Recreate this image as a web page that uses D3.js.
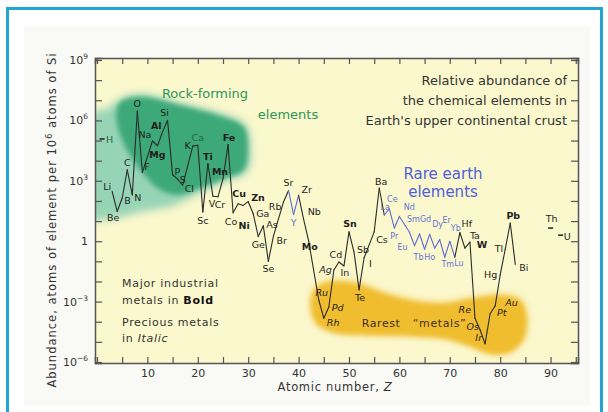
<!DOCTYPE html>
<html>
<head>
<meta charset="utf-8">
<script src="https://cdn.jsdelivr.net/npm/d3@7"></script>
<style>
  body { margin: 0; background: #fff; }
  svg { display: block; font-family: "DejaVu Sans", sans-serif; }
</style>
</head>
<body>
<svg id="chart" width="608" height="412"></svg>
<script>
// Element symbols, atomic numbers and abundance (atoms per 10^6 atoms of Si)
const elementSymbols = ["H","Li","Be","B","C","N","O","F","Na","Mg","Al","Si","P","S","Cl",
  "K","Ca","Sc","Ti","V","Cr","Mn","Fe","Co","Ni","Cu","Zn","Ga","Ge","As","Se","Br",
  "Rb","Sr","Y","Zr","Nb","Mo","Ru","Rh","Pd","Ag","Cd","In","Sn","Sb","Te","I","Cs","Ba",
  "La","Ce","Pr","Nd","Sm","Eu","Gd","Tb","Dy","Ho","Er","Tm","Yb","Lu",
  "Hf","Ta","W","Re","Os","Ir","Pt","Au","Hg","Tl","Pb","Bi","Th","U"];
const atomicNumbers = [1,3,4,5,6,7,8,9,11,12,13,14,15,16,17,
  19,20,21,22,23,24,25,26,27,28,29,30,31,32,33,34,35,
  37,38,39,40,41,42,44,45,46,47,48,49,50,51,52,53,55,56,
  57,58,59,60,62,63,64,65,66,67,68,69,70,71,
  72,73,74,75,76,77,78,79,80,81,82,83,90,92];
const abundance = [1.2e5,300,30,140,3500,200,2.9e6,2600,9.5e4,5.5e4,2.7e5,1e6,2000,1200,600,
  5.3e4,5.8e4,28,7200,170,160,1270,6.3e4,26,72,60,92,23,1.7,5.8,0.1,1.8,
  88,330,21,190,12,1.0,1.2e-3,1.5e-4,5.4e-4,0.037,0.093,0.059,2.9,0.29,0.0038,0.15,2.9,440,
  20,40,4.5,17,2.8,0.6,2.3,0.4,2.2,0.45,1.2,0.16,1.0,0.16,
  2.7,0.45,0.9,1.5e-4,4e-5,8e-6,2.5e-4,6e-4,0.021,0.4,8,0.07,4.5,2];

// Element groups
const isolatedElements = ["H","Th","U"];
const rareEarthElements = ["Y","La","Ce","Pr","Nd","Sm","Eu","Gd","Tb","Dy","Ho","Er","Tm","Yb","Lu"];
const industrialMetals = ["Mg","Al","Ti","Mn","Fe","Ni","Cu","Zn","Sn","Mo","W","Pb"];
const preciousMetals = ["Ru","Rh","Pd","Ag","Re","Os","Ir","Pt","Au"];

// Axis ticks
const xTickValues = [10,20,30,40,50,60,70,80,90];
const yTickExponents = [9,6,3,0,-3,-6];

// Shaded regions, outlined as [Z, log10 abundance]
const rockFormingOuter = [[-3,6.1],[2.2,6.62],[5,7.11],[8.6,7.31],[16.5,6.86],[25.5,6.27],[29.5,5.77],[30.5,4.53],
  [29.7,3.44],[26.1,3.04],[20.5,2.44],[15.5,1.8],[8.6,1.45],[3.6,1.15],[-3,1.2]];
const rockFormingCore = [[4.6,6.9],[8.6,7.16],[16.2,6.77],[25,6.17],[29.1,5.67],[29.9,4.53],[29.1,3.54],[25.5,3.14],
  [20.5,2.64],[16.2,2.3],[12.6,2.54],[8.6,3.54],[5,5.03],[3.8,6.27]];
const rarestMetals = [[42.5,-2.92],[43.5,-2.27],[46.5,-1.98],[51.5,-2.08],[56.5,-2.52],[62.5,-2.92],[68.5,-3.07],
  [74.4,-2.82],[80.4,-2.67],[84,-2.92],[85.2,-3.81],[84.4,-4.91],[81.4,-5.5],[77.4,-5.5],[74,-5.16],
  [69.5,-4.81],[62.5,-4.66],[54.5,-4.61],[47.5,-4.51],[43.5,-4.01]];

const elements = elementSymbols.map((s, i) => ({ sym: s, z: atomicNumbers[i], v: abundance[i] }));

const W = 608, H = 412;
const plot = { left: 95, right: 578, top: 58, bottom: 363 };

const x = d3.scaleLinear().domain([-0.4, 95.44]).range([plot.left, plot.right]);
const y = d3.scaleLog().domain([Math.pow(10, -6.05), Math.pow(10, 9.1)]).range([plot.bottom, plot.top]);

const svg = d3.select("#chart");

// page and frame
svg.append("rect").attr("width", W).attr("height", H).attr("fill", "#ffffff");
svg.append("rect").attr("x", 24).attr("y", 26).attr("width", 566).attr("height", 380).attr("fill", "#f9f9f6");
svg.append("path").attr("d", "M7.5,412 V8.5 H601.5 V412")
  .attr("stroke", "#1fa6d3").attr("stroke-width", 3).attr("fill", "none");

// plot background
svg.append("rect")
  .attr("x", plot.left).attr("y", plot.top)
  .attr("width", plot.right - plot.left).attr("height", plot.bottom - plot.top)
  .attr("fill", "#fbf8cd");

const defs = svg.append("defs");
defs.append("clipPath").attr("id", "plotClip").append("rect")
  .attr("x", plot.left).attr("y", plot.top)
  .attr("width", plot.right - plot.left).attr("height", plot.bottom - plot.top);
const soft = defs.append("filter").attr("id", "soft").attr("x", "-20%").attr("y", "-20%").attr("width", "140%").attr("height", "140%");
soft.append("feGaussianBlur").attr("stdDeviation", 4);
const soft2 = defs.append("filter").attr("id", "soft2").attr("x", "-20%").attr("y", "-20%").attr("width", "140%").attr("height", "140%");
soft2.append("feGaussianBlur").attr("stdDeviation", 2.5);

const blob = d3.line().x(d => x(d[0])).y(d => y(Math.pow(10, d[1]))).curve(d3.curveCatmullRomClosed.alpha(0.5));
const regions = svg.append("g").attr("clip-path", "url(#plotClip)");
regions.append("path").attr("d", blob(rockFormingOuter)).attr("fill", "#97d4b6").attr("filter", "url(#soft)");
regions.append("path").attr("d", blob(rockFormingCore)).attr("fill", "#3ea878").attr("filter", "url(#soft2)");
regions.append("path").attr("d", blob(rarestMetals)).attr("fill", "#f5d36e").attr("filter", "url(#soft)");
regions.append("path").attr("d", blob(rarestMetals)).attr("fill", "#f0bd2e").attr("filter", "url(#soft2)")
  .attr("transform", "translate(0,1)");

// annotations
const ann = svg.append("g").attr("font-size", 13);
ann.append("text").attr("x", 205).attr("y", 98).attr("text-anchor", "middle").attr("fill", "#2e955a").text("Rock-forming");
ann.append("text").attr("x", 288).attr("y", 119).attr("text-anchor", "middle").attr("fill", "#2e955a").text("elements");
ann.append("g").attr("fill", "#333").attr("text-anchor", "end").selectAll("text")
  .data(["Relative abundance of", "the chemical elements in", "Earth's upper continental crust"])
  .join("text").attr("x", 567).attr("y", (d, i) => 85 + i * 20).text(d => d);
ann.append("text").attr("x", 443).attr("y", 179).attr("text-anchor", "middle").attr("fill", "#4f5fd6").attr("font-size", 15).text("Rare earth");
ann.append("text").attr("x", 443).attr("y", 197).attr("text-anchor", "middle").attr("fill", "#4f5fd6").attr("font-size", 15).text("elements");
const note = svg.append("g").attr("font-size", 11).attr("fill", "#333").attr("letter-spacing", 0.7);
note.append("text").attr("x", 122).attr("y", 287).text("Major industrial");
const n2 = note.append("text").attr("x", 122).attr("y", 304);
n2.append("tspan").text("metals in ");
n2.append("tspan").attr("font-weight", "bold").attr("fill", "#111").text("Bold");
note.append("text").attr("x", 122).attr("y", 326).text("Precious metals");
const n4 = note.append("text").attr("x", 122).attr("y", 342);
n4.append("tspan").text("in ");
n4.append("tspan").attr("font-style", "italic").text("Italic");
svg.append("text").attr("x", 414).attr("y", 327).attr("text-anchor", "middle").attr("font-size", 11)
  .attr("letter-spacing", 0.6).attr("fill", "#3a3020").attr("xml:space", "preserve")
  .text("Rarest   \u201Cmetals\u201D");

// abundance line: consecutive elements, rare-earth stretch in blue
const chain = elements.filter(d => !isolatedElements.includes(d.sym));
const segs = d3.pairs(chain);
const isLanthanide = s => rareEarthElements.includes(s) && s !== "Y";
const blueSeg = d => (isLanthanide(d[0].sym) && isLanthanide(d[1].sym)) || d[0].sym === "Y" || d[1].sym === "Y";
svg.append("g").attr("fill", "none").attr("stroke-width", 1.1).attr("stroke-linecap", "round")
  .selectAll("line").data(segs).join("line")
  .attr("x1", d => x(d[0].z)).attr("y1", d => y(d[0].v))
  .attr("x2", d => x(d[1].z)).attr("y2", d => y(d[1].v))
  .attr("stroke", d => blueSeg(d) ? "#5a6ad8" : "#2b2b2b");

// isolated element marks
svg.append("g").attr("stroke", "#2b2b2b").attr("stroke-width", 1.6)
  .selectAll("line").data(elements.filter(d => isolatedElements.includes(d.sym))).join("line")
  .attr("x1", d => x(d.z) - 2.5).attr("x2", d => x(d.z) + 2.5)
  .attr("y1", d => y(d.v)).attr("y2", d => y(d.v));

// label placement: [dx, dy, anchor]
const labelPlacement = {
  H: [4, 4, "start"], Li: [-1, -1, "end"], Be: [-4, 10, "middle"], B: [2, 6, "start"], C: [0, -4, "middle"],
  N: [2, 6, "start"], O: [0, -4, "middle"], F: [2, -2, "start"], Na: [-1, -3, "end"], Mg: [0, 12, "middle"],
  Al: [-1, -3, "end"], Si: [-3, -4, "middle"], P: [2, 0, "start"], S: [2, 4, "start"], Cl: [2, 7, "start"],
  K: [-2, 3, "end"], Ca: [0, -4, "middle"], Sc: [0, 12, "middle"], Ti: [0, -4, "middle"], V: [-1, 11, "middle"],
  Cr: [2, 11, "middle"], Mn: [-3, -4, "middle"], Fe: [1, -4, "middle"], Co: [-2, 12, "middle"], Ni: [6, 25, "middle"],
  Cu: [-4, -8, "middle"], Zn: [3, -1, "start"], Ga: [3, 3, "start"], Ge: [0, 11, "middle"], As: [3, 2, "start"],
  Se: [0, 11, "middle"], Br: [3, 8, "start"], Rb: [-2, 8, "end"], Sr: [0, -4, "middle"], Y: [0, 11, "middle"],
  Zr: [3, -2, "start"], Nb: [4, -4, "start"], Mo: [1, 9, "middle"], Ru: [3, -4, "middle"], Rh: [3, 8, "start"],
  Pd: [3, 4, "start"], Ag: [-2, 3, "end"], Cd: [-3, -4, "middle"], In: [1, 10, "middle"], Sn: [1, -5, "middle"],
  Sb: [3, 1, "start"], Te: [1, 11, "middle"], I: [5, 9, "start"], Cs: [2, 11, "start"], Ba: [2, -3, "middle"],
  La: [1, -5, "middle"], Ce: [3, -7, "middle"], Pr: [0, 11, "middle"], Nd: [10, -6, "middle"], Sm: [4, -10, "middle"],
  Eu: [-12, 4, "middle"], Gd: [6, -12, "middle"], Tb: [-6, 11, "middle"], Dy: [8, -7, "middle"], Ho: [-5, 12, "middle"],
  Er: [7, -17, "middle"], Tm: [3, 10, "middle"], Yb: [6, -10, "middle"], Lu: [4, 9, "middle"],
  Hf: [7, -6, "middle"], Ta: [10, -9, "middle"], W: [12, 6, "middle"], Re: [-4, -5, "end"], Os: [-1, 0, "end"],
  Ir: [-3, -3, "end"], Pt: [7, 2, "start"], Au: [10, 0, "start"], Hg: [-3, 3, "end"], Tl: [-2, 3, "end"],
  Pb: [3, -4, "middle"], Bi: [4, 7, "start"], Th: [1, -6, "middle"], U: [3, 5, "start"]
};

svg.append("g")
  .selectAll("text").data(elements).join("text")
  .attr("x", d => x(d.z) + labelPlacement[d.sym][0])
  .attr("y", d => y(d.v) + labelPlacement[d.sym][1])
  .attr("text-anchor", d => labelPlacement[d.sym][2])
  .attr("font-size", d => isLanthanide(d.sym) ? 8 : 9.5)
  .attr("font-weight", d => industrialMetals.includes(d.sym) ? "bold" : "normal")
  .attr("font-style", d => preciousMetals.includes(d.sym) ? "italic" : "normal")
  .attr("fill", d => rareEarthElements.includes(d.sym) ? "#6573d6" : (["H", "Ca"].includes(d.sym) ? "#1f6b45" : "#1e1e1e"))
  .text(d => d.sym);

// axes
const axisColor = "#555";
const xMinor = d3.range(0, 96, 5);
const gx = svg.append("g").attr("transform", `translate(0,${plot.bottom})`)
  .call(d3.axisBottom(x).tickValues(xMinor).tickSize(-6).tickPadding(6)
    .tickFormat(d => xTickValues.includes(d) ? d : ""));
const gxt = svg.append("g").attr("transform", `translate(0,${plot.top})`)
  .call(d3.axisTop(x).tickValues(xMinor).tickSize(-6).tickFormat(""));
const decades = d3.range(-6, 10).map(e => Math.pow(10, e));
const gy = svg.append("g").attr("transform", `translate(${plot.left},0)`)
  .call(d3.axisLeft(y).tickValues(decades).tickSize(-7).tickFormat(""));
const gyr = svg.append("g").attr("transform", `translate(${plot.right},0)`)
  .call(d3.axisRight(y).tickValues(decades).tickSize(-7).tickFormat(""));
[gx, gxt, gy, gyr].forEach(g => {
  g.select(".domain").attr("stroke", axisColor).attr("stroke-width", 1.5);
  g.selectAll(".tick line").attr("stroke", axisColor).attr("stroke-width", 1.2);
  g.selectAll("text").attr("font-size", 11).attr("fill", "#333").attr("font-family", "DejaVu Sans, sans-serif");
});

// y tick labels with exponents
const yl = svg.append("g").attr("font-size", 11).attr("fill", "#333");
yTickExponents.forEach(e => {
  const t = yl.append("text").attr("x", plot.left - 7).attr("y", y(Math.pow(10, e)) + 4).attr("text-anchor", "end");
  if (e === 0) { t.text("1"); return; }
  t.append("tspan").text("10");
  t.append("tspan").attr("dy", -5).attr("font-size", 7.5).text(e < 0 ? "\u2212" + (-e) : e);
});

// axis titles
const xt = svg.append("text").attr("x", 335).attr("y", 391).attr("text-anchor", "middle")
  .attr("font-size", 11.5).attr("letter-spacing", 0.7).attr("fill", "#333");
xt.append("tspan").text("Atomic number, ");
xt.append("tspan").attr("font-style", "italic").text("Z");
const yt = svg.append("text").attr("transform", "translate(56,220) rotate(-90)").attr("text-anchor", "middle")
  .attr("font-size", 11.5).attr("letter-spacing", 1).attr("fill", "#333");
yt.append("tspan").text("Abundance, atoms of element per 10");
yt.append("tspan").attr("dy", -4).attr("font-size", 8).text("6");
yt.append("tspan").attr("dy", 4).text(" atoms of Si");
</script>
</body>
</html>
